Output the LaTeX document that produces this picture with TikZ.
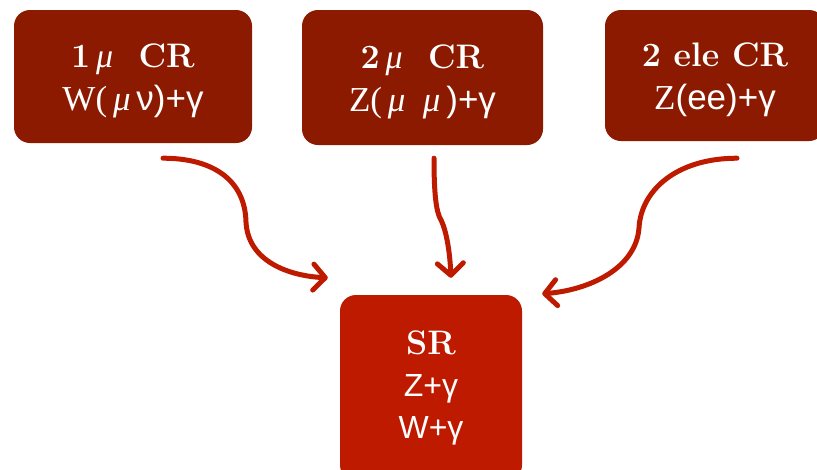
\documentclass[tikz,border=0pt]{standalone}
\usepackage{fontspec}
\newfontfamily\sansfnt{Liberation Sans}
\newfontfamily\seriffnt{Liberation Serif}
\usetikzlibrary{arrows.meta}
\definecolor{crred}{RGB}{139,26,0}
\definecolor{srred}{RGB}{190,26,0}
\newcommand{\crtitle}[1]{{\fontsize{34}{43}\selectfont\bfseries #1}}
\newcommand{\muit}{{\mdseries\seriffnt\itshape μ}}
\begin{document}
\begin{tikzpicture}[x=1pt, y=1pt,
        box/.style = {rounded corners=16pt, align=center, text=white, inner sep=0pt},
        cr/.style = {box, fill=crred, font=\fontsize{35}{43}\selectfont},
        sr/.style = {box, fill=srred, font=\fontsize{32}{42}\selectfont},
        flow/.style = {draw=srred, line width=5pt, line cap=round,
                       -{Straight Barb[length=12pt,width=26pt,round]}}]
    \useasboundingbox (0,0) rectangle (817,-469);
    \node[cr, minimum width=238pt, minimum height=133pt] (cr1) at (133,-76.5)
        {\rule{0pt}{32pt}\crtitle{1\,\muit\ \ CR}\\{\seriffnt W(\,\muit\,}{\sansfnt ν)+γ}};
    \node[cr, minimum width=241pt, minimum height=135pt] (cr2) at (422.5,-77.5)
        {\rule{0pt}{32pt}\crtitle{2\,\muit\ \ CR}\\{\seriffnt Z(\,\muit\ \ \muit\,}{\sansfnt )+γ}};
    \node[cr, minimum width=220pt, minimum height=131pt] (cr3) at (715,-75.5)
        {\rule{0pt}{32pt}\crtitle{2 ele CR}\\{\seriffnt Z}{\sansfnt (ee)+γ}};
    \node[sr, minimum width=182pt, minimum height=186pt] (sr) at (431,-388)
        {\crtitle{SR}\\{\sansfnt Z+γ}\\{\sansfnt W+γ}};
    % arrow ends
    \coordinate (s1) at ([shift={(30pt,-15pt)}]cr1.south);
    \coordinate (s2) at ([shift={(11.5pt,-13pt)}]cr2.south);
    \coordinate (s3) at ([shift={(22pt,-17pt)}]cr3.south);
    \coordinate (e1) at ([shift={(-12pt,17pt)}]sr.north west);
    \coordinate (e2) at ([shift={(20pt,17pt)}]sr.north);
    \coordinate (e3) at ([shift={(20pt,1pt)}]sr.north east);
    \draw[flow] (s1) .. controls ++(50,0) and (245,-180) .. (246,-222)
        .. controls (248,-262) and (290,-276) .. (e1);
    \draw[flow] (s2) .. controls ++(0,-35) and (436,-212) .. (441,-220)
        .. controls (447,-232) and (450,-255) .. (e2);
    \draw[flow] (s3) .. controls ++(-60,0) and (641,-190) .. (639,-228)
        .. controls (636,-268) and (590,-290) .. (e3);
\end{tikzpicture}
\end{document}
